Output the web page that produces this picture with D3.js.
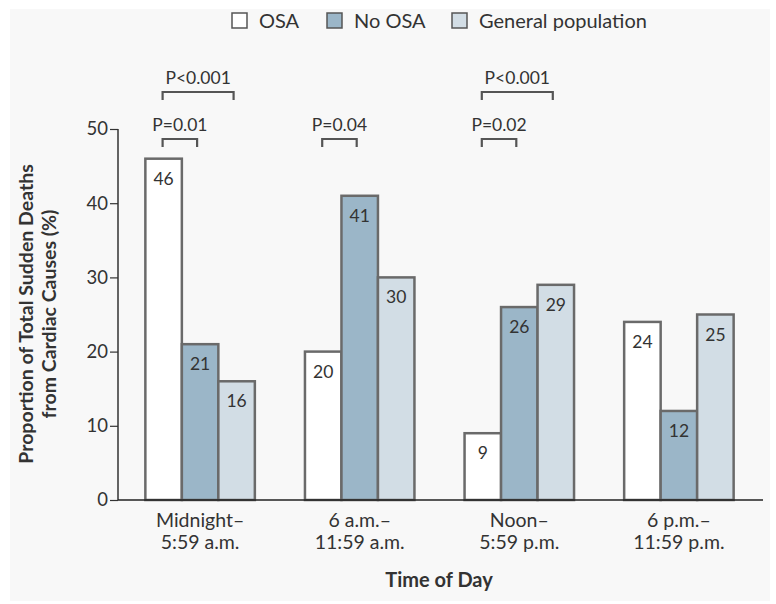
<!DOCTYPE html>
<html><head><meta charset="utf-8">
<script src="https://cdn.jsdelivr.net/npm/d3@7"></script>
<style>
html,body{margin:0;padding:0;background:#fff;}
svg{display:block;font-family:Lato,"Open Sans",sans-serif;}
</style></head>
<body>
<svg id="c" width="776" height="604"></svg>
<script>
const categories = [["Midnight–","5:59 a.m."],["6 a.m.–","11:59 a.m."],["Noon–","5:59 p.m."],["6 p.m.–","11:59 p.m."]];
const seriesNames = ["OSA","No OSA","General population"];
const osa = [46, 20, 9, 24];
const noOsa = [21, 41, 26, 12];
const genPop = [16, 30, 29, 25];
const yTicks = [0, 10, 20, 30, 40, 50];
// p-value annotations: group index, series from, series to, label, level (0 lower, 1 upper)
const pGroups = [0, 0, 1, 2, 2];
const pFrom = [0, 0, 0, 0, 0];
const pTo = [1, 2, 1, 1, 2];
const pLabels = ["P=0.01", "P<0.001", "P=0.04", "P=0.02", "P<0.001"];
const pLevels = [0, 1, 0, 0, 1];

const colors = ["#ffffff", "#9bb6c8", "#d2dde5"];
const series = [osa, noOsa, genPop];
const svg = d3.select("#c");
const textCol = "#333";

svg.append("rect").attr("x",10).attr("y",9).attr("width",760).attr("height",592).attr("fill","#f8f8f8");

const x = d3.scaleBand().domain(d3.range(categories.length)).range([120.3, 758.7]).paddingInner(0.314).paddingOuter(0.157);
const xs = d3.scaleBand().domain(d3.range(3)).range([0, x.bandwidth()]);
const y = d3.scaleLinear().domain([0, 50]).range([500, 129]);

// axes
const yAxis = svg.append("g").attr("transform","translate(118,0)")
  .call(d3.axisLeft(y).tickValues(yTicks).tickSize(8).tickPadding(2));
yAxis.select(".domain").attr("stroke","#333").attr("stroke-width",1.5).attr("d","M0,"+y(50)+"V"+y(0));
yAxis.selectAll(".tick line").attr("stroke","#333").attr("stroke-width",1.2);
yAxis.selectAll(".tick text").attr("fill",textCol).attr("font-size",18.5).attr("font-family","Lato,sans-serif");

// bars
categories.forEach((c, i) => {
  const g = svg.append("g").attr("transform", `translate(${x(i)},0)`);
  series.forEach((s, j) => {
    g.append("rect").attr("x", xs(j)).attr("y", y(s[i])).attr("width", xs.bandwidth()).attr("height", y(0) - y(s[i]))
      .attr("fill", colors[j]).attr("stroke", "#6a6a6a").attr("stroke-width", 2.5);
    g.append("text").attr("x", xs(j) + xs.bandwidth()/2).attr("y", y(s[i]) + 26)
      .attr("text-anchor","middle").attr("font-size",17.5).attr("fill",textCol).text(s[i]);
  });
});

// x baseline
svg.append("line").attr("x1",118).attr("x2",763).attr("y1",y(0)).attr("y2",y(0)).attr("stroke","#222").attr("stroke-width",1.5);

// x labels
categories.forEach((c, i) => {
  const t = svg.append("text").attr("x", x(i) + x.bandwidth()/2).attr("y", 527).attr("text-anchor","middle")
    .attr("font-size",19.5).attr("fill",textCol);
  c.forEach((line, k) => t.append("tspan").attr("x", x(i) + x.bandwidth()/2).attr("dy", k ? 22 : 0).text(line));
});

svg.append("text").attr("x", 439).attr("y", 587).attr("text-anchor","middle").attr("font-size",20)
  .attr("font-weight","bold").attr("fill",textCol).text("Time of Day");

// y title
const yt = svg.append("text").attr("transform","translate(33,314) rotate(-90)").attr("text-anchor","middle")
  .attr("font-size",19.5).attr("font-weight","bold").attr("fill",textCol);
yt.append("tspan").attr("x",0).attr("dy",0).text("Proportion of Total Sudden Deaths");
yt.append("tspan").attr("x",0).attr("dy",23).text("from Cardiac Causes (%)");

// p-value brackets
pLabels.forEach((lab, k) => {
  const gx = x(pGroups[k]);
  const x1 = gx + xs(pFrom[k]) + xs.bandwidth()/2 - 1;
  const x2 = gx + xs(pTo[k]) + xs.bandwidth()/2 - 3;
  const by = pLevels[k] ? 92 : 139;
  svg.append("path").attr("d", `M${x1},${by+8}V${by}H${x2}V${by+8}`).attr("fill","none")
    .attr("stroke","#555").attr("stroke-width",2.2);
  svg.append("text").attr("x", (x1 + x2)/2).attr("y", by - 8).attr("text-anchor","middle")
    .attr("font-size",17.5).attr("fill",textCol).text(lab);
});

// legend
const legX = [232, 327, 452];
seriesNames.forEach((n, j) => {
  svg.append("rect").attr("x", legX[j]).attr("y", 13).attr("width", 15).attr("height", 15)
    .attr("fill", colors[j]).attr("stroke", "#555").attr("stroke-width", 1.5);
  svg.append("text").attr("x", legX[j] + 27).attr("y", 28).attr("font-size",20).attr("fill",textCol).text(n);
});
</script>
</body></html>
